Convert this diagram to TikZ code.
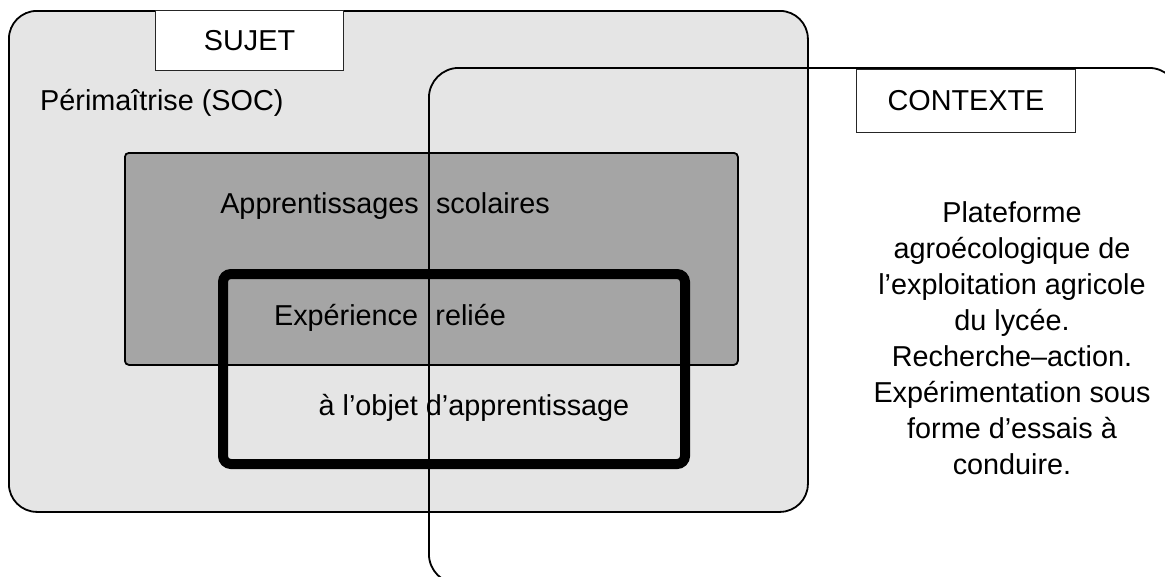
\documentclass[tikz,border=0pt]{standalone}
\usepackage{fontspec}
\setmainfont{Liberation Sans}
\usepackage{xcolor}
\usepackage{tikz}
\usetikzlibrary{positioning}
\definecolor{sujetgray}{HTML}{E5E5E5}
\definecolor{scolgray}{HTML}{A5A5A5}
\tikzstyle{zone} = [rectangle, draw=black, line width=1.8pt, inner sep=0pt, anchor=north west]
\tikzstyle{titlebox} = [rectangle, draw=black!85, line width=1pt, fill=white, inner sep=0pt, anchor=north west, font=\fontsize{28.8}{36}\selectfont]
\tikzstyle{txt} = [inner sep=0pt, font=\fontsize{28.8}{36}\selectfont]

\begin{document}
\begin{tikzpicture}[x=1pt, y=-1pt]
    \useasboundingbox (0,0) rectangle (1165,576);
    \clip (0,0) rectangle (1165,576);
    % Zones
    \node[zone, fill=sujetgray, rounded corners=28pt, minimum width=799pt, minimum height=501pt] (sujet) at (8,10) {};
    \node[titlebox, minimum width=188pt, minimum height=60pt] (sujettitle) at (155,10) {SUJET};
    \node[zone, fill=scolgray, rounded corners=4pt, minimum width=613pt, minimum height=212pt] (scolaire) at (124,152) {};
    \node[zone, line width=10pt, rounded corners=8pt, minimum width=462pt, minimum height=190pt] (experience) at (218,269) {};
    \node[zone, rounded corners=30pt, minimum width=750pt, minimum height=516pt] (contexte) at (428,67) {};
    \node[titlebox, minimum width=219pt, minimum height=63pt] (contextetitle) at (856,69) {CONTEXTE};

    % Texts
    \node[txt, anchor=west] (soc) at (40,103) {Périmaîtrise (SOC)};
    \node[txt] (apprent) at (385,206) {Apprentissages\hspace{0.6em}scolaires};
    \node[txt] (relie) at (390,318) {Expérience\hspace{0.6em}reliée};
    \node[txt] (objet) at (474,408) {à l’objet d’apprentissage};
    \node[txt, align=center] (plateforme) at (1012,338) {Plateforme\\
        agroécologique de\\
        l’exploitation agricole\\
        du lycée.\\
        Recherche–action.\\
        Expérimentation sous\\
        forme d’essais à\\
        conduire.};
\end{tikzpicture}
\end{document}
